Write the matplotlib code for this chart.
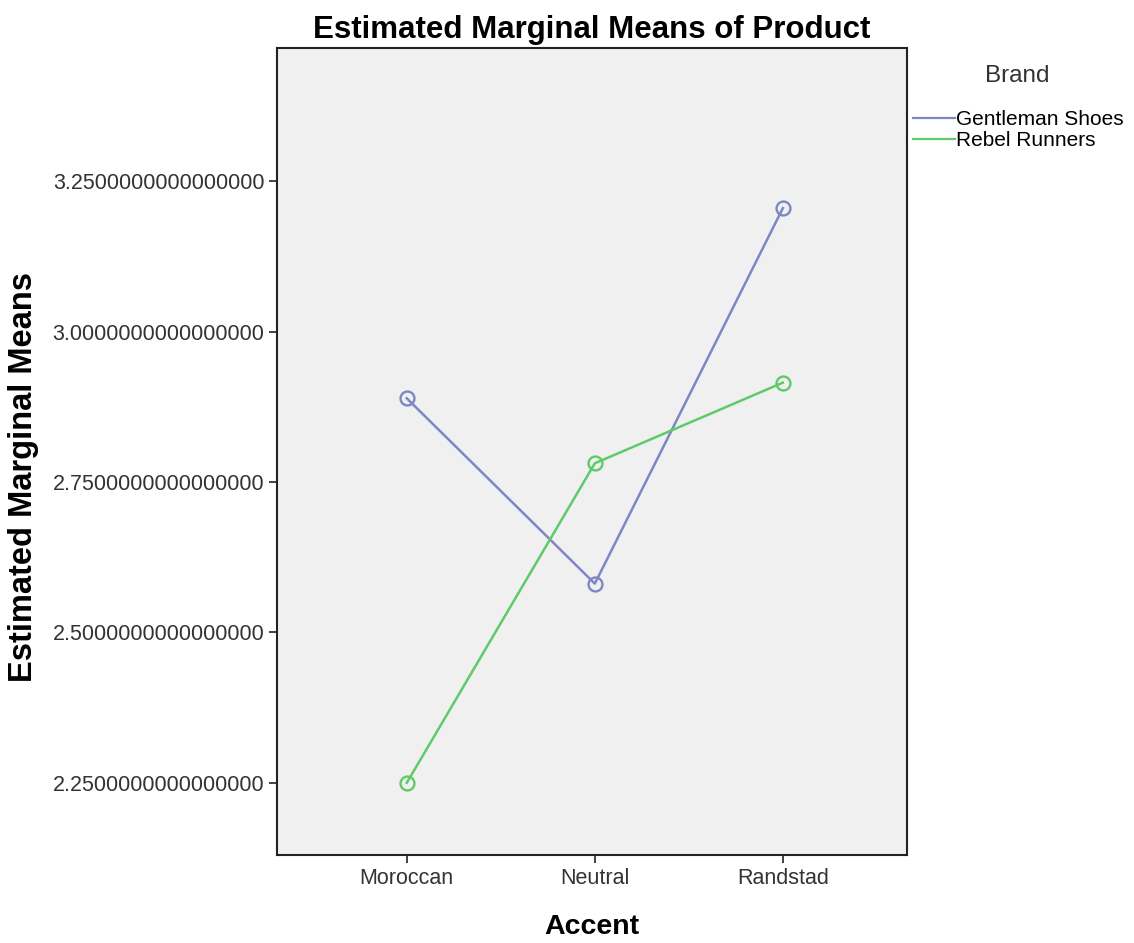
import matplotlib
matplotlib.use('Agg')
import matplotlib.pyplot as plt
from matplotlib.lines import Line2D
from matplotlib.ticker import FormatStrFormatter

plt.rcParams['font.family'] = ['Liberation Sans', 'DejaVu Sans']

# Data
accents = ['Moroccan', 'Neutral', 'Randstad']
gentleman = [2.889, 2.581, 3.205]
rebel = [2.250, 2.781, 2.915]
yticks = [2.25, 2.50, 2.75, 3.00, 3.25]

c_gent = '#7d87c6'
c_rebel = '#5fca68'

fig = plt.figure(figsize=(11.34, 9.43), dpi=100)
ax = fig.add_axes([0.2443, 0.0933, 0.5555, 0.8557])
ax.set_facecolor('#f0f0f0')

x = list(range(len(accents)))
ax.plot(x, gentleman, color=c_gent, lw=1.8, marker='o', ms=10,
        mfc='none', mec=c_gent, mew=1.7, label='Gentleman Shoes')
ax.plot(x, rebel, color=c_rebel, lw=1.8, marker='o', ms=10,
        mfc='none', mec=c_rebel, mew=1.7, label='Rebel Runners')

ax.set_xlim(-0.69, 2.66)
ax.set_ylim(2.130, 3.471)
ax.set_xticks(x)
ax.set_xticklabels(accents)
ax.set_yticks(yticks)
ax.yaxis.set_major_formatter(FormatStrFormatter('%.16f'))
ax.tick_params(axis='both', labelsize=15.5, length=6, width=1.2,
               colors='#222222', labelcolor='#333333', direction='out', pad=3)
for s in ax.spines.values():
    s.set_linewidth(1.5)
    s.set_color('#222222')

ax.set_title('Estimated Marginal Means of Product', fontsize=22.5,
             fontweight='bold', y=1.0223, pad=0, va='center')
ax.set_xlabel('Accent', fontsize=20.5, fontweight='bold', va='center')
ax.xaxis.set_label_coords(0.5, -0.0892)
ax.set_ylabel('Estimated Marginal Means', fontsize=23.5, fontweight='bold',
              va='center')
ax.yaxis.set_label_coords(-0.402, 0.468)

# legend outside on the right
fig.text(0.8968, 0.9194, 'Brand', fontsize=17.5, color='#333333',
         ha='center', va='center')
handles = [Line2D([0], [0], color=c_gent, lw=1.6),
           Line2D([0], [0], color=c_rebel, lw=1.6)]
ax.legend(handles, ['Gentleman Shoes', 'Rebel Runners'],
          loc='upper left', bbox_to_anchor=(1.0096, 0.9235), frameon=False,
          fontsize=15, handlelength=2.0, handletextpad=0.05,
          labelspacing=0.12, borderaxespad=0, borderpad=0)

fig.savefig('out.png', dpi=100)
